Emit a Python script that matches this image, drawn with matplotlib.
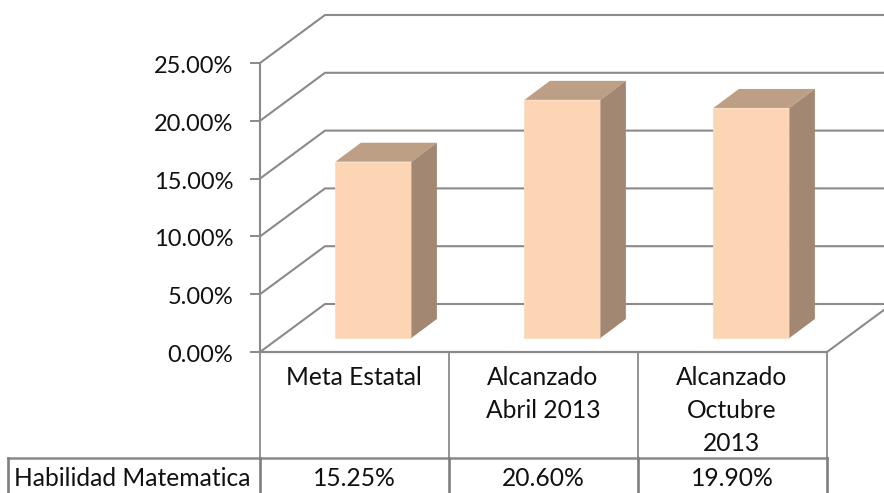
import matplotlib
matplotlib.use("Agg")
import matplotlib.pyplot as plt
from matplotlib.patches import Polygon

categories = ["Meta Estatal", "Alcanzado\nAbril 2013", "Alcanzado\nOctubre\n2013"]
series_name = "Habilidad Matematica"
values = [15.25, 20.60, 19.90]
value_labels = ["15.25%", "20.60%", "19.90%"]
ticks = [0, 5, 10, 15, 20, 25]
tick_labels = ["0.00%", "5.00%", "10.00%", "15.00%", "20.00%", "25.00%"]

W, H = 884, 493
X0, Y0, UX, UY = 260.0, 352.0, 189.0, 11.56
GREY = "#8a8a8a"
FONT = "Lato"
FS = 17.0
FS_TABLE = 17.7
INK = "#111111"

fig = plt.figure(figsize=(W / 100, H / 100), dpi=100)
ax = fig.add_axes([0, 0, 1, 1])
ax.set_xlim(-X0 / UX, (W - X0) / UX)
ax.set_ylim((Y0 - H) / UY, Y0 / UY)
ax.axis("off")

def px(x):
    return x / UX
def py(y):
    return y / UY

# plot box depth
DX, DY = px(65), py(48)
right_edge = (W - X0) / UX

for t in ticks:
    ax.plot([0, DX, right_edge], [t, t + DY, t + DY], color=GREY, lw=1.5,
            solid_joinstyle="miter", zorder=1)
    ax.plot([px(-9), 0], [t, t], color=GREY, lw=1.4, zorder=1)
    ax.text(px(-26.5), t - py(10), tick_labels[t // 5], ha="right", va="baseline",
            fontsize=FS, family=FONT, color=INK)
ax.plot([0, 0], [0, 25], color=GREY, lw=1.5, zorder=1)
ax.plot([3, 3 + DX], [0, DY], color=GREY, lw=1.5, zorder=1)

# 3-D bars
bar_w = px(76)
base = py(14)
bd_x, bd_y = px(25.5), py(19)
centers = [0.6 + i for i in range(len(values))]
ax.bar(centers, values, width=bar_w, bottom=base, color="#fcd5b5", edgecolor="#fbdcc4",
       linewidth=0.6, zorder=3)
for c, v in zip(centers, values):
    l, r, top = c - bar_w / 2, c + bar_w / 2, base + v
    ax.add_patch(Polygon([(l, top), (r, top), (r + bd_x, top + bd_y), (l + bd_x, top + bd_y)],
                         closed=True, facecolor="#bd9f85", edgecolor="none", zorder=3))
    ax.add_patch(Polygon([(r, base), (r, top), (r + bd_x, top + bd_y), (r + bd_x, base + bd_y)],
                         closed=True, facecolor="#a28772", edgecolor="none", zorder=3))

# data table (its lower edge runs off the picture)
row1, row_end = -py(106), -py(142)
left = px(8 - X0)
ax.plot([0, 3], [0, 0], color=GREY, lw=1.6, zorder=2)
ax.plot([left, 3], [row1, row1], color=GREY, lw=1.8, zorder=2)
for i in range(4):
    ax.plot([i, i], [0, row1], color=GREY, lw=1.3, zorder=2)
    ax.plot([i, i], [row1, row_end], color="#7f7f7f", lw=1.9, zorder=2)
ax.plot([left, left], [row1, row_end], color="#7f7f7f", lw=1.9, zorder=2)

line_y = [-py(33), -py(66), -py(99)]
for i, (cat, val) in enumerate(zip(categories, value_labels)):
    for ln, y in zip(cat.split("\n"), line_y):
        ax.text(i + 0.5 - px(0.5), y, ln, ha="center", va="baseline", fontsize=FS_TABLE, family=FONT, color=INK)
    ax.text(i + 0.5, -py(134), val, ha="center", va="baseline", fontsize=FS_TABLE, family=FONT, color=INK)
ax.text(px(14 - X0), -py(134), series_name, ha="left", va="baseline", fontsize=FS_TABLE, family=FONT, color=INK)

fig.savefig("out.png", dpi=100, facecolor="white")
